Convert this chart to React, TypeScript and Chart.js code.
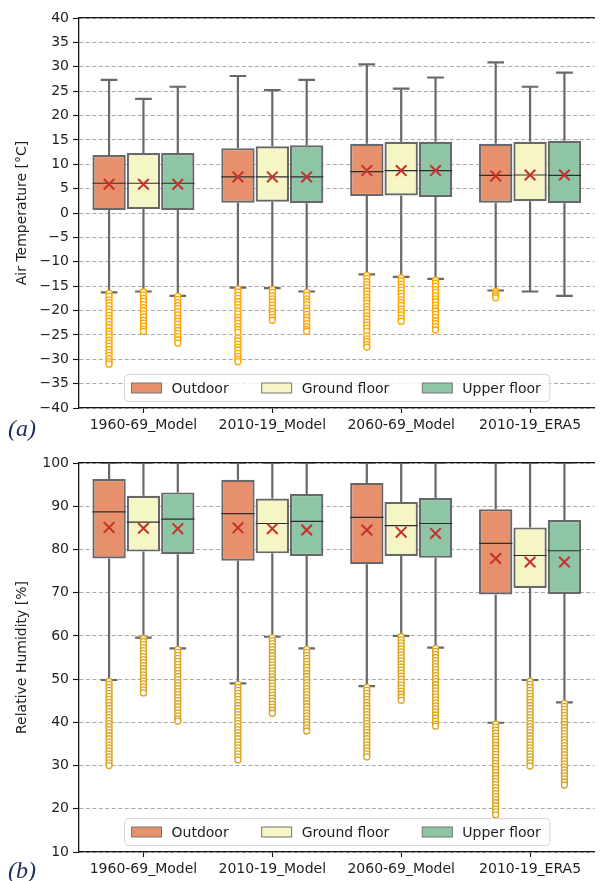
import React, { useEffect, useRef } from 'react';
import { Chart, registerables } from 'chart.js';

Chart.register(...registerables);

// ---------------- DATA ----------------
const categories = ['1960-69_Model', '2010-19_Model', '2060-69_Model', '2010-19_ERA5'];
const seriesNames = ['Outdoor', 'Ground floor', 'Upper floor'];

// Panel (a): Air temperature [°C]; rows = Outdoor, Ground floor, Upper floor
const tempWhiskerLow = [
  [-16.3, -15.3, -12.6, -15.9],
  [-16.1, -15.4, -13.1, -16.1],
  [-17.0, -16.1, -13.5, -17.0],
];
const tempQ1 = [
  [0.6, 2.1, 3.5, 2.1],
  [0.8, 2.3, 3.6, 2.4],
  [0.6, 2.0, 3.3, 2.0],
];
const tempMedian = [
  [6.1, 7.4, 8.5, 7.7],
  [6.1, 7.4, 8.7, 7.8],
  [6.1, 7.4, 8.7, 7.7],
];
const tempQ3 = [
  [11.9, 13.3, 14.2, 14.2],
  [12.3, 13.7, 14.6, 14.6],
  [12.3, 13.9, 14.6, 14.8],
];
const tempWhiskerHigh = [
  [27.3, 28.1, 30.5, 30.9],
  [23.4, 25.2, 25.5, 25.9],
  [25.9, 27.3, 27.8, 28.8],
];
const tempMean = [
  [5.9, 7.4, 8.7, 7.6],
  [5.9, 7.4, 8.7, 7.8],
  [5.9, 7.4, 8.7, 7.8],
];
const tempOutliers = [
  [
    [-16.5, -17.1, -17.8, -18.4, -19.0, -19.7, -20.3, -21.0, -21.6, -22.2, -22.9, -23.5, -24.2, -24.8, -25.4, -26.1, -26.7, -27.3, -28.0, -28.6, -29.2, -29.9, -30.5, -31.0],
    [-15.6, -16.2, -16.9, -17.5, -18.2, -18.8, -19.4, -20.1, -20.7, -21.4, -22.0, -22.6, -23.3, -23.9, -24.5, -25.6, -26.2, -26.9, -27.5, -28.1, -28.8, -29.4, -30.0, -30.5],
    [-12.8, -13.4, -14.1, -14.7, -15.3, -16.0, -16.6, -17.3, -17.9, -18.5, -19.2, -19.8, -20.4, -21.1, -21.7, -22.4, -23.0, -23.6, -24.3, -25.2, -25.8, -26.4, -27.0, -27.5],
    [-16.1, -16.6, -17.0, -17.4],
  ],
  [
    [-16.2, -16.8, -17.5, -18.1, -18.8, -19.4, -20.0, -20.7, -21.3, -22.0, -22.6, -23.2, -23.8, -24.3],
    [-15.7, -16.3, -17.0, -17.6, -18.2, -18.9, -19.5, -20.2, -20.8, -21.4, -22.0],
    [-13.3, -13.9, -14.6, -15.2, -15.8, -16.5, -17.1, -17.8, -18.4, -19.0, -19.7, -20.3, -20.9, -21.6, -22.2],
    [],
  ],
  [
    [-17.1, -17.7, -18.4, -19.0, -19.6, -20.3, -20.9, -21.6, -22.2, -22.8, -23.5, -24.1, -24.7, -25.4, -26.0, -26.7],
    [-16.3, -16.9, -17.6, -18.2, -18.8, -19.5, -20.1, -20.8, -21.4, -22.0, -22.7, -23.3, -23.9, -24.3],
    [-13.8, -14.4, -15.0, -15.7, -16.3, -17.0, -17.6, -18.2, -18.9, -19.5, -20.1, -20.8, -21.4, -22.1, -22.7, -23.3, -24.0],
    [],
  ],
];

// Panel (b): Relative humidity [%]
const rhWhiskerLow = [
  [49.8, 49.0, 48.4, 39.9],
  [59.6, 59.8, 60.0, 49.8],
  [57.1, 57.1, 57.3, 44.6],
];
const rhQ1 = [
  [77.9, 77.4, 76.6, 69.6],
  [79.5, 79.1, 78.5, 71.1],
  [78.9, 78.5, 78.1, 69.7],
];
const rhMedian = [
  [88.7, 88.3, 87.4, 81.4],
  [86.3, 86.0, 85.5, 78.6],
  [87.0, 86.5, 86.0, 79.7],
];
const rhQ3 = [
  [96.3, 96.1, 95.4, 89.3],
  [92.4, 91.8, 91.0, 85.1],
  [93.2, 92.8, 91.9, 86.8],
];
const rhWhiskerHigh = [
  [100, 100, 100, 100],
  [100, 100, 100, 100],
  [100, 100, 100, 100],
];
const rhMean = [
  [85.1, 85.0, 84.5, 77.9],
  [84.9, 84.8, 84.0, 77.1],
  [84.8, 84.5, 83.7, 77.1],
];
const rhOutliers = [
  [
    [49.5, 48.8, 48.1, 47.4, 46.7, 46.0, 45.3, 44.6, 43.9, 43.2, 42.5, 41.8, 41.1, 40.4, 39.7, 39.0, 38.3, 37.6, 36.9, 36.2, 35.5, 34.8, 34.1, 33.4, 32.7, 32.0, 31.3, 30.6, 30.0],
    [48.8, 48.1, 47.4, 46.7, 46.0, 45.3, 44.6, 43.9, 43.2, 42.5, 41.8, 41.1, 40.4, 39.7, 39.0, 38.3, 37.6, 36.9, 36.2, 35.5, 34.8, 34.1, 33.4, 32.7, 32.0, 31.3],
    [48.1, 47.4, 46.7, 46.0, 45.3, 44.6, 43.9, 43.2, 42.5, 41.8, 41.1, 40.4, 39.7, 39.0, 38.3, 37.6, 36.9, 36.2, 35.5, 34.8, 34.1, 33.4, 32.7, 32.0],
    [39.6, 38.9, 38.2, 37.5, 36.8, 36.1, 35.4, 34.7, 34.0, 33.3, 32.6, 31.9, 31.2, 30.5, 29.8, 29.1, 28.4, 27.7, 27.0, 26.3, 25.6, 24.9, 24.2, 23.5, 22.8, 22.1, 21.4, 20.7, 20.0, 19.3, 18.6],
  ],
  [
    [59.4, 58.7, 58.0, 57.3, 56.6, 55.9, 55.2, 54.5, 53.8, 53.1, 52.4, 51.7, 51.0, 50.3, 49.6, 48.9, 48.2, 47.5, 46.8],
    [59.6, 58.9, 58.2, 57.5, 56.8, 56.1, 55.4, 54.7, 54.0, 53.3, 52.6, 51.9, 51.2, 50.5, 49.8, 49.1, 48.4, 47.7, 47.0, 46.3, 45.6, 44.9, 44.2, 43.5, 42.8, 42.1],
    [59.8, 59.1, 58.4, 57.7, 57.0, 56.3, 55.6, 54.9, 54.2, 53.5, 52.8, 52.1, 51.4, 50.7, 50.0, 49.3, 48.6, 47.9, 47.2, 46.5, 45.8, 45.1],
    [49.5, 48.8, 48.1, 47.4, 46.7, 46.0, 45.3, 44.6, 43.9, 43.2, 42.5, 41.8, 41.1, 40.4, 39.7, 39.0, 38.3, 37.6, 36.9, 36.2, 35.5, 34.8, 34.1, 33.4, 32.7, 32.0, 31.3, 30.6, 29.9],
  ],
  [
    [56.9, 56.2, 55.5, 54.8, 54.1, 53.4, 52.7, 52.0, 51.3, 50.6, 49.9, 49.2, 48.5, 47.8, 47.1, 46.4, 45.7, 45.0, 44.3, 43.6, 42.9, 42.2, 41.5, 40.8, 40.3],
    [56.9, 56.2, 55.5, 54.8, 54.1, 53.4, 52.7, 52.0, 51.3, 50.6, 49.9, 49.2, 48.5, 47.8, 47.1, 46.4, 45.7, 45.0, 44.3, 43.6, 42.9, 42.2, 41.5, 40.8, 40.1, 39.4, 38.7, 38.0],
    [57.1, 56.4, 55.7, 55.0, 54.3, 53.6, 52.9, 52.2, 51.5, 50.8, 50.1, 49.4, 48.7, 48.0, 47.3, 46.6, 45.9, 45.2, 44.5, 43.8, 43.1, 42.4, 41.7, 41.0, 40.3, 39.6, 39.1],
    [44.4, 43.7, 43.0, 42.3, 41.6, 40.9, 40.2, 39.5, 38.8, 38.1, 37.4, 36.7, 36.0, 35.3, 34.6, 33.9, 33.2, 32.5, 31.8, 31.1, 30.4, 29.7, 29.0, 28.3, 27.6, 26.9, 26.2, 25.5],
  ],
];

// ---------------- STYLE ----------------
const FONT_FAMILY = '"DejaVu Sans", "Liberation Sans", sans-serif';
const BOX_COLORS = ['#e6916b', '#f6f5c6', '#8ec5a4'];
const EDGE = '#686868';
const MEDIAN_COLOR = '#2e2e2e';
const MEAN_COLOR = '#c92f2c';
const AXIS_COLOR = '#151515';
const TEXT_COLOR = '#1f1f1f';
const GRID_COLOR = '#a9a9a9';
const CANVAS_W = 604;

const GROUP_WIDTH = 0.8;
const SLOT = GROUP_WIDTH / 3;
const BAR_PCT = 0.97;
const BOX_HALF = (SLOT * BAR_PCT) / 2;
const CAP_HALF = BOX_HALF / 2;

Chart.defaults.font.family = FONT_FAMILY;

type Panel = {
  lo: number[][];
  q1: number[][];
  med: number[][];
  q3: number[][];
  hi: number[][];
  mean: number[][];
  outliers: number[][][];
  outlierColor: string;
  yMin: number;
  yMax: number;
  yStep: number;
  yTitle: string;
  padTop: number;
  xAxisHeight: number;
  canvasHeight: number;
};

const legendPlugin = {
  id: 'boxLegend',
  afterDraw(chart: any) {
    const { ctx, chartArea } = chart;
    ctx.save();
    ctx.font = `14px ${FONT_FAMILY}`;
    const patchW = 30;
    const patchH = 10;
    const patchGap = 10;
    const itemGap = 33;
    const padL = 7;
    const padR = 9;
    const h = 27;
    const widths = seriesNames.map((n) => ctx.measureText(n).width);
    const total =
      padL + padR + widths.reduce((a, w) => a + patchW + patchGap + w, 0) + itemGap * (seriesNames.length - 1);
    const cx = (chartArea.left + chartArea.right) / 2;
    const left = Math.round(cx - total / 2) + 0.5;
    const bottom = chartArea.bottom - 7;
    const top = Math.round(bottom - h) + 0.5;
    ctx.beginPath();
    (ctx as any).roundRect(left, top, total, h, 4);
    ctx.fillStyle = 'rgba(255,255,255,0.8)';
    ctx.fill();
    ctx.strokeStyle = '#d4d4d4';
    ctx.lineWidth = 1;
    ctx.stroke();
    let x = left + padL;
    const cy = top + h / 2;
    seriesNames.forEach((name, s) => {
      ctx.fillStyle = BOX_COLORS[s];
      ctx.fillRect(x, cy - patchH / 2, patchW, patchH);
      ctx.strokeStyle = '#777';
      ctx.lineWidth = 1;
      ctx.strokeRect(x, cy - patchH / 2, patchW, patchH);
      x += patchW + patchGap;
      ctx.fillStyle = TEXT_COLOR;
      ctx.textBaseline = 'middle';
      ctx.textAlign = 'left';
      ctx.fillText(name, x, cy + 1);
      x += widths[s] + itemGap;
    });
    ctx.restore();
  },
};

function buildConfig(p: Panel): any {
  const whiskers: any[] = [];
  const medians: any[] = [];
  const means: any[] = [];
  const outs: any[] = [];
  for (let s = 0; s < seriesNames.length; s++) {
    for (let i = 0; i < categories.length; i++) {
      const x = i + (s - 1) * SLOT;
      const hi = p.hi[s][i];
      const lo = p.lo[s][i];
      whiskers.push(
        { x, y: p.q3[s][i] }, { x, y: hi }, { x, y: null },
        { x: x - CAP_HALF, y: hi }, { x: x + CAP_HALF, y: hi }, { x, y: null },
        { x, y: p.q1[s][i] }, { x, y: lo }, { x, y: null },
        { x: x - CAP_HALF, y: lo }, { x: x + CAP_HALF, y: lo }, { x, y: null }
      );
      medians.push({ x: x - BOX_HALF, y: p.med[s][i] }, { x: x + BOX_HALF, y: p.med[s][i] }, { x, y: null });
      means.push({ x, y: p.mean[s][i] });
      p.outliers[s][i].forEach((v) => outs.push({ x, y: v }));
    }
  }

  // Boxes: floating bars [Q1, Q3] placed on the linear x2 axis at each series' offset
  const barSets = seriesNames.map((name, s) => ({
    type: 'bar',
    label: name,
    xAxisID: 'x2',
    yAxisID: 'y',
    data: categories.map((_, i) => ({ x: i + (s - 1) * SLOT, y: [p.q1[s][i], p.q3[s][i]] })),
    backgroundColor: BOX_COLORS[s],
    borderColor: EDGE,
    borderWidth: 2.2,
    borderSkipped: false,
    grouped: false,
    barPercentage: BAR_PCT,
    categoryPercentage: 1,
    order: 2,
  }));

  return {
    type: 'bar',
    data: {
      labels: categories,
      datasets: [
        ...barSets,
        {
          type: 'line',
          label: 'whiskers',
          xAxisID: 'x2',
          yAxisID: 'y',
          data: whiskers,
          borderColor: EDGE,
          borderWidth: 2.2,
          pointRadius: 0,
          spanGaps: false,
          tension: 0,
          fill: false,
          order: 4,
        },
        {
          type: 'scatter',
          label: 'outliers',
          xAxisID: 'x2',
          yAxisID: 'y',
          data: outs,
          pointStyle: 'circle',
          pointRadius: 3,
          pointBorderWidth: 1.3,
          borderColor: p.outlierColor,
          pointBorderColor: p.outlierColor,
          backgroundColor: '#ffffff',
          pointBackgroundColor: '#ffffff',
          order: 3,
        },
        {
          type: 'line',
          label: 'medians',
          xAxisID: 'x2',
          yAxisID: 'y',
          data: medians,
          borderColor: MEDIAN_COLOR,
          borderWidth: 1.2,
          pointRadius: 0,
          spanGaps: false,
          tension: 0,
          fill: false,
          order: 1,
        },
        {
          type: 'scatter',
          label: 'means',
          xAxisID: 'x2',
          yAxisID: 'y',
          data: means,
          pointStyle: 'crossRot',
          pointRadius: 7.5,
          pointBorderWidth: 2,
          borderColor: MEAN_COLOR,
          pointBorderColor: MEAN_COLOR,
          backgroundColor: MEAN_COLOR,
          order: 0,
        },
      ],
    },
    options: {
      responsive: false,
      maintainAspectRatio: false,
      animation: false,
      devicePixelRatio: 1,
      events: [],
      layout: { padding: { top: p.padTop, left: 0, right: 1.5, bottom: 0 } },
      plugins: { legend: { display: false }, tooltip: { enabled: false } },
      scales: {
        x: {
          type: 'category',
          position: 'bottom',
          offset: true,
          grid: {
            display: true,
            drawOnChartArea: false,
            drawTicks: true,
            tickLength: 5,
            tickColor: AXIS_COLOR,
            tickWidth: 1.1,
            offset: false,
          },
          border: { display: true, color: AXIS_COLOR, width: 1.3 },
          ticks: {
            font: { size: 14, family: FONT_FAMILY },
            color: TEXT_COLOR,
            padding: 4,
            maxRotation: 0,
            autoSkip: false,
          },
          afterFit: (scale: any) => {
            scale.height = p.xAxisHeight;
          },
        },
        x2: {
          type: 'linear',
          position: 'top',
          min: -0.5,
          max: 3.5,
          offset: false,
          display: true,
          grid: { display: false, drawTicks: false, offset: false },
          ticks: { display: false },
          border: { display: true, color: AXIS_COLOR, width: 1.3 },
          afterFit: (scale: any) => {
            scale.height = 0;
          },
        },
        y: {
          type: 'linear',
          position: 'left',
          min: p.yMin,
          max: p.yMax,
          ticks: {
            stepSize: p.yStep,
            maxTicksLimit: 30,
            autoSkip: false,
            font: { size: 14, family: FONT_FAMILY },
            color: TEXT_COLOR,
            padding: 4,
            callback: (v: any) => {
              const n = Number(v);
              return n < 0 ? '\u2212' + Math.abs(n) : String(n);
            },
          },
          grid: {
            color: GRID_COLOR,
            lineWidth: 1,
            drawTicks: true,
            tickLength: 6,
            tickColor: AXIS_COLOR,
            tickWidth: 1.1,
            tickBorderDash: [],
          },
          border: { display: true, color: AXIS_COLOR, width: 1.3, dash: [4, 2.5] },
          title: {
            display: true,
            text: p.yTitle,
            font: { size: 14, family: FONT_FAMILY },
            color: TEXT_COLOR,
            padding: { top: 14, bottom: 0 },
          },
          afterFit: (scale: any) => {
            scale.width = 79;
          },
        },
      },
    },
    plugins: [legendPlugin],
  };
}

const panelA: Panel = {
  lo: tempWhiskerLow,
  q1: tempQ1,
  med: tempMedian,
  q3: tempQ3,
  hi: tempWhiskerHigh,
  mean: tempMean,
  outliers: tempOutliers,
  outlierColor: '#ffa500',
  yMin: -40,
  yMax: 40,
  yStep: 5,
  yTitle: 'Air Temperature [°C]',
  padTop: 18,
  xAxisHeight: 32,
  canvasHeight: 440,
};

const panelB: Panel = {
  lo: rhWhiskerLow,
  q1: rhQ1,
  med: rhMedian,
  q3: rhQ3,
  hi: rhWhiskerHigh,
  mean: rhMean,
  outliers: rhOutliers,
  outlierColor: '#daa520',
  yMin: 10,
  yMax: 100,
  yStep: 10,
  yTitle: 'Relative Humidity [%]',
  padTop: 23,
  xAxisHeight: 29,
  canvasHeight: 441,
};

function BoxPanel({ spec, top }: { spec: Panel; top: number }) {
  const ref = useRef<HTMLCanvasElement>(null);
  useEffect(() => {
    if (!ref.current) return;
    const chart = new Chart(ref.current, buildConfig(spec));
    return () => chart.destroy();
  }, [spec]);
  return (
    <canvas
      ref={ref}
      width={CANVAS_W}
      height={spec.canvasHeight}
      style={{ position: 'absolute', left: 0, top, width: CANVAS_W, height: spec.canvasHeight }}
    />
  );
}

const panelLabelStyle: React.CSSProperties = {
  position: 'absolute',
  left: 8,
  fontFamily: '"Liberation Serif", "DejaVu Serif", serif',
  fontStyle: 'italic',
  fontSize: 24,
  lineHeight: '24px',
  color: '#1d2c5e',
  whiteSpace: 'nowrap',
};

export default function App() {
  return (
    <div
      style={{
        position: 'absolute',
        left: 0,
        top: 0,
        width: 601,
        height: 881,
        overflow: 'hidden',
        background: '#ffffff',
      }}
    >
      <BoxPanel spec={panelA} top={0} />
      <BoxPanel spec={panelB} top={440} />
      <span style={{ ...panelLabelStyle, top: 416 }}>(a)</span>
      <span style={{ ...panelLabelStyle, top: 858 }}>(b)</span>
    </div>
  );
}
